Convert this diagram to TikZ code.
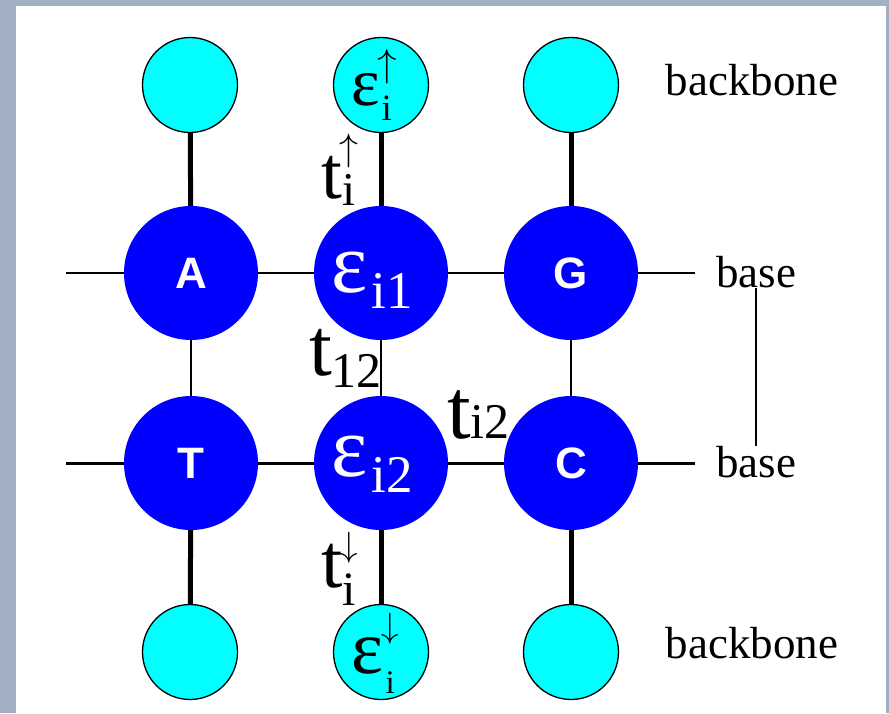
\RequirePackage{fix-cm}
\documentclass[tikz,border=0pt]{standalone}
\usepackage{fontspec}
\setmainfont{Liberation Serif}
\newfontfamily\sansfam{Liberation Sans}
\definecolor{bgc}{HTML}{A2B0C3}
\definecolor{nodeblue}{HTML}{0000FF}
\definecolor{cyanfill}{HTML}{00FFFF}
% #1 base, #2 base size, #3 sup, #4 sup size, #5 sup raise, #6 sub, #7 sub size, #8 sub lower, #9 box width
\newcommand{\sslab}[9]{{\fontsize{#2}{#2}\selectfont #1}%
  \makebox[0pt][l]{\raisebox{#5}{\makebox[#9][c]{\fontsize{#4}{#4}\selectfont$#3$}}}%
  \raisebox{-#8}{\makebox[#9][c]{\fontsize{#7}{#7}\selectfont #6}}}
% #1 base, #2 base size, #3 sub, #4 sub size, #5 sub lower, #6 gap
\newcommand{\sublab}[6]{{\fontsize{#2}{#2}\selectfont #1}\hspace{#6}%
  \raisebox{-#5}{\fontsize{#4}{#4}\selectfont #3}}
\begin{document}
\begin{tikzpicture}[x=1pt,y=-1pt,
  bbnode/.style={circle, fill=cyanfill, draw=black, line width=1.3pt, minimum size=95pt, inner sep=0pt},
  basenode/.style={circle, fill=nodeblue, minimum size=134pt, inner sep=0pt, text=white,
    font=\sansfam\bfseries\fontsize{44}{50}\selectfont},
  hbond/.style={line width=1.5pt},
  hbondb/.style={line width=3pt},
  vbond/.style={line width=1.5pt},
  bbond/.style={line width=5pt},
  sidelabel/.style={inner sep=0pt, font=\fontsize{45}{54}\selectfont},
  lab/.style={inner sep=0pt, anchor=base west},
  wlab/.style={lab, text=white}
]
\useasboundingbox (0,0) rectangle (889,713);
\fill[bgc] (0,0) rectangle (889,713);
\fill[white] (16,6) rectangle (886,713);

% backbone (top)
\node[bbnode] (bt1) at (190,85) {};
\node[bbnode] (bt2) at (381,85) {};
\node[bbnode] (bt3) at (571,85) {};
% bases
\node[basenode] (A) at (191,273) {A};
\node[basenode] (E1) at (381,273) {};
\node[basenode] (G) at (571,273) {G};
\node[basenode] (T) at (191,463) {T};
\node[basenode] (E2) at (381,463) {};
\node[basenode] (C) at (571,463) {C};
% backbone (bottom)
\node[bbnode] (bb1) at (190,652) {};
\node[bbnode] (bb2) at (381,652) {};
\node[bbnode] (bb3) at (571,652) {};

\coordinate (l1) at (66,273);
\coordinate (r1) at (695,273);
\coordinate (l2) at (66,463);
\coordinate (r2) at (695,463);

% horizontal links
\draw[hbond] (l1) -- (A);
\draw[hbond] (A) -- (E1);
\draw[hbond] (E1) -- (G);
\draw[hbond] (G) -- (r1);
\draw[hbondb] (l2) -- (T);
\draw[hbondb] (T) -- (E2);
\draw[hbondb] (E2) -- (C);
\draw[hbondb] (C) -- (r2);
% vertical links
\draw[vbond] (A) -- (T);
\draw[vbond] (E1) -- (E2);
\draw[vbond] (G) -- (C);
\draw[bbond] (bt1) -- (A);
\draw[bbond] (bt2) -- (E1);
\draw[bbond] (bt3) -- (G);
\draw[bbond] (T) -- (bb1);
\draw[bbond] (E2) -- (bb2);
\draw[bbond] (C) -- (bb3);

% side labels
\node[sidelabel] (bbtop) at (752,80) {backbone};
\node[sidelabel] (bbbot) at (752,643) {backbone};
\node[sidelabel] (base1) at (756,272) {base};
\node[sidelabel] (base2) at (756,462) {base};
\draw[vbond] (base1.south) -- (base2.north);

% energy labels
\node[wlab] (e1lab) at (331,292) {\sublab{ε}{86}{i1}{53}{16pt}{4pt}};
\node[wlab] (e2lab) at (331,476) {\sublab{ε}{86}{i2}{53}{16pt}{4pt}};
\node[lab] (eup) at (351,105) {\sslab{ε}{68}{\uparrow}{39}{29pt}{i}{37}{15pt}{14pt}};
\node[lab] (edown) at (351,673) {\sslab{ε}{76}{\downarrow}{35}{36pt}{i}{33}{20pt}{14pt}};
% hopping labels
\node[lab] (tup) at (321,198) {\sslab{t}{75}{\uparrow}{38}{38pt}{i}{47}{7pt}{14pt}};
\node[lab] (t12) at (309,375) {\sublab{t}{82}{12}{50}{12pt}{0pt}};
\node[lab] (ti2) at (447,438) {\sublab{t}{85}{i2}{50}{0pt}{0pt}};
\node[lab] (tdown) at (321,587) {\sslab{t}{77}{\downarrow}{35}{31pt}{i}{48}{18pt}{14pt}};
\end{tikzpicture}
\end{document}
